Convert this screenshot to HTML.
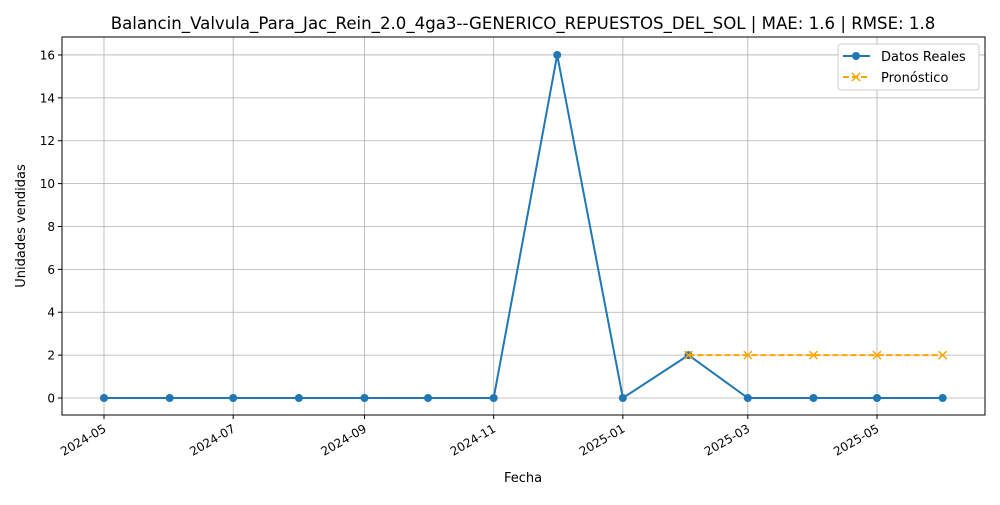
<!DOCTYPE html>
<html><head><meta charset="utf-8"><style>
body{margin:0;background:#fff;font-family:"Liberation Sans","DejaVu Sans",sans-serif;}
svg text{font-family:"DejaVu Sans","Liberation Sans",sans-serif;}
</style></head><body>
<svg id="chart" width="1000" height="500" xmlns="http://www.w3.org/2000/svg">
<rect width="1000" height="500" fill="#fff"/>
<text x="523" y="29" font-size="16.6" text-anchor="middle">Balancin_Valvula_Para_Jac_Rein_2.0_4ga3--GENERICO_REPUESTOS_DEL_SOL | MAE: 1.6 | RMSE: 1.8</text>
<g id="grid"></g><g id="axes"></g><g id="series"></g>
<text x="523" y="482" font-size="13" text-anchor="middle">Fecha</text>
<text x="25" y="226" font-size="13" text-anchor="middle" transform="rotate(-90 25 226)">Unidades vendidas</text>
<g>
<rect x="838" y="44" width="141" height="46" fill="#fff" stroke="#ccc" rx="3"/>
<line x1="843" y1="56" x2="870" y2="56" stroke="#1f77b4" stroke-width="2"/><circle cx="856" cy="56" r="4" fill="#1f77b4"/>
<text x="881" y="61" font-size="13">Datos Reales</text>
<line x1="843" y1="77" x2="870" y2="77" stroke="orange" stroke-width="2" stroke-dasharray="6,3"/>
<path d="M852 73l8 8M860 73l-8 8" stroke="orange" stroke-width="1.5"/>
<text x="881" y="82" font-size="13">Pronóstico</text>
</g>
</svg>
<script>
const dates=["2024-05-01","2024-06-01","2024-07-01","2024-08-01","2024-09-01","2024-10-01","2024-11-01","2024-12-01","2025-01-01","2025-02-01","2025-03-01","2025-04-01","2025-05-01","2025-06-01"];
const actual=[0,0,0,0,0,0,0,16,0,2,0,0,0,0];
const fDates=["2025-02-01","2025-03-01","2025-04-01","2025-05-01","2025-06-01"];
const forecast=[2,2,2,2,2];
const xTicks=["2024-05","2024-07","2024-09","2024-11","2025-01","2025-03","2025-05"];
const yTicks=[0,2,4,6,8,10,12,14,16];
const L=62,R=985,T=37,B=415;
const d0=Date.parse("2024-05-01");
function x(s){return 104+(Date.parse(s.length==7?s+"-01":s)-d0)/864e5*2.1178;}
function y(v){return 398-v*21.44;}
const NS="http://www.w3.org/2000/svg";
function mk(p,t,a){const e=document.createElementNS(NS,t);for(const k in a)e.setAttribute(k,a[k]);p.appendChild(e);return e;}
const g=document.getElementById('grid'),ax=document.getElementById('axes'),s=document.getElementById('series');
xTicks.forEach(t=>{const X=x(t);
const l=mk(g,'line',{x1:X,x2:X,y1:T,y2:B,stroke:'#b0b0b0','stroke-width':0.8});


mk(ax,'line',{x1:X,x2:X,y1:B,y2:B+4,stroke:'#000'});
const tx=mk(ax,'text',{x:X+3,y:B+16,'font-size':12,'text-anchor':'end',transform:`rotate(-30 ${X+3} ${B+16})`});tx.textContent=t;

});
yTicks.forEach(t=>{const Y=y(t);
const l=mk(g,'line',{x1:L,x2:R,y1:Y,y2:Y,stroke:'#b0b0b0','stroke-width':0.8});


mk(ax,'line',{x1:L-4,x2:L,y1:Y,y2:Y,stroke:'#000'});
const tx=mk(ax,'text',{x:L-7,y:Y+4.5,'font-size':12,'text-anchor':'end'});tx.textContent=t;

});
const fr=mk(ax,'rect',{x:L,y:T,width:R-L,height:B-T,fill:'none',stroke:'#000','stroke-width':1});


const pa=mk(s,'polyline',{points:dates.map((d,i)=>x(d)+','+y(actual[i])).join(' '),fill:'none',stroke:'#1f77b4','stroke-width':2});


dates.forEach((d,i)=>{const c=mk(s,'circle',{cx:x(d),cy:y(actual[i]),r:4,fill:'#1f77b4'});

});
const pf=mk(s,'polyline',{points:fDates.map((d,i)=>x(d)+','+y(forecast[i])).join(' '),fill:'none',stroke:'orange','stroke-width':2,'stroke-dasharray':'6,3'});


fDates.forEach((d,i)=>{const X=x(d),Y=y(forecast[i]);
const m=mk(s,'path',{d:`M${X-4} ${Y-4}l8 8M${X+4} ${Y-4}l-8 8`,stroke:'orange','stroke-width':1.5});

});
</script>
</body></html>
